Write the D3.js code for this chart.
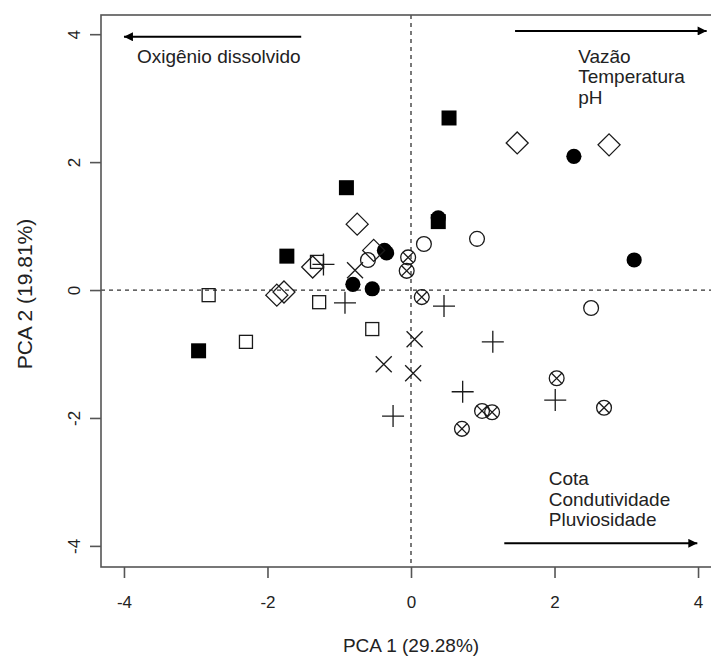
<!DOCTYPE html>
<html><head><meta charset="utf-8">
<script src="https://cdn.jsdelivr.net/npm/d3@7"></script>
<style>body{margin:0;background:#fff;} svg{display:block;} text{font-family:"Liberation Sans",Arial,sans-serif;fill:#222;}</style>
</head><body><svg id="c" width="711" height="657"></svg>
<script>
// ---- data ----
const xTicks = [-4, -2, 0, 2, 4];
const yTicks = [-4, -2, 0, 2, 4];
const xLabel = "PCA 1 (29.28%)";
const yLabel = "PCA 2 (19.81%)";
const filledSquare = [[0.53,2.69],[-0.90,1.60],[-1.73,0.53],[-2.96,-0.95],[0.38,1.07]];
const filledCircle = [[2.27,2.09],[3.11,0.47],[-0.37,0.62],[-0.34,0.58],[-0.54,0.02],[-0.81,0.09],[0.38,1.13]];
const openCircle = [[0.92,0.80],[2.51,-0.28],[0.18,0.72],[-0.60,0.47]];
const openDiamond = [[1.48,2.30],[2.76,2.27],[-0.75,1.03],[-0.52,0.62],[-1.37,0.36],[-1.87,-0.08],[-1.77,-0.03]];
const openSquare = [[-2.82,-0.08],[-2.30,-0.81],[-1.28,-0.19],[-1.31,0.44],[-0.54,-0.61]];
const plusPts = [[-1.22,0.40],[-0.92,-0.20],[0.46,-0.25],[1.14,-0.81],[0.72,-1.59],[-0.25,-1.97],[2.01,-1.72]];
const crossPts = [[-0.78,0.31],[0.05,-0.77],[-0.38,-1.16],[0.03,-1.30]];
const circleXPts = [[-0.04,0.51],[-0.06,0.30],[0.15,-0.11],[2.03,-1.38],[2.69,-1.84],[0.99,-1.89],[1.13,-1.91],[0.71,-2.17]];
// arrows: [x1,y1,x2,y2] (head at x2,y2), in data units
const arrows = [[-1.53,3.96,-4.0,3.96],[1.45,4.05,4.12,4.05],[1.30,-3.96,3.99,-3.96]];
const arrowLabels = [
  {x:-3.82, y:3.55, lines:["Oxigênio dissolvido"]},
  {x:2.33, y:3.55, lines:["Vazão","Temperatura","pH"]},
  {x:1.92, y:-3.05, lines:["Cota","Condutividade","Pluviosidade"]}
];

// ---- chart ----
const svg = d3.select("#c");
const x = d3.scaleLinear().domain([-4.32, 4.32]).range([101, 721]);
const y = d3.scaleLinear().domain([-4.33, 4.30]).range([567, 15]);
const ink = "#1a1a1a", axisCol = "#555";
const fmt = d => String(d);

svg.append("defs").append("marker").attr("id","ah").attr("viewBox","0 0 10 10")
  .attr("refX",10).attr("refY",5).attr("markerWidth",5.5).attr("markerHeight",4.5)
  .attr("markerUnits","strokeWidth").attr("orient","auto")
  .append("path").attr("d","M0,0L10,5L0,10z").attr("fill","#000");

// dashed zero lines
svg.append("line").attr("x1",x(0)).attr("x2",x(0)).attr("y1",y.range()[1]).attr("y2",y.range()[0])
  .attr("stroke","#333").attr("stroke-width",1.3).attr("stroke-dasharray","4,4");
svg.append("line").attr("x1",x.range()[0]).attr("x2",x.range()[1]).attr("y1",y(0)).attr("y2",y(0))
  .attr("stroke","#333").attr("stroke-width",1.3).attr("stroke-dasharray","4,4");

// box
svg.append("rect").attr("x",x.range()[0]).attr("y",y.range()[1])
  .attr("width",x.range()[1]-x.range()[0]).attr("height",y.range()[0]-y.range()[1])
  .attr("fill","none").attr("stroke",axisCol).attr("stroke-width",1.6);

// axes
const xa = svg.append("g").attr("transform",`translate(0,${y.range()[0]})`)
  .call(d3.axisBottom(x).tickValues(xTicks).tickSize(11).tickFormat(fmt));
const ya = svg.append("g").attr("transform",`translate(${x.range()[0]},0)`)
  .call(d3.axisLeft(y).tickValues(yTicks).tickSize(11).tickFormat(fmt));
[xa, ya].forEach(g => {
  g.select(".domain").remove();
  g.selectAll(".tick line").attr("stroke",axisCol).attr("stroke-width",1.6);
  g.selectAll("text").attr("font-size",17).attr("fill","#222").style("font-family","Liberation Sans, Arial, sans-serif");
});
xa.selectAll(".tick text").attr("dy",null).attr("y",41);
ya.selectAll(".tick text").attr("x",null).attr("dy",null).attr("text-anchor","middle")
  .attr("transform","translate(-21,0) rotate(-90)");

// axis titles
svg.append("text").attr("x",x(0)).attr("y",652).attr("text-anchor","middle").attr("font-size",19).text(xLabel);
svg.append("text").attr("transform",`translate(32,${y(0)+4}) rotate(-90)`).attr("text-anchor","middle")
  .attr("font-size",21).text(yLabel);

// arrows and labels
svg.selectAll(".arr").data(arrows).enter().append("line").attr("class","arr")
  .attr("x1",d=>x(d[0])).attr("y1",d=>y(d[1])).attr("x2",d=>x(d[2])).attr("y2",d=>y(d[3]))
  .attr("stroke","#000").attr("stroke-width",2).attr("marker-end","url(#ah)");
arrowLabels.forEach(a => {
  a.lines.forEach((t,i) => {
    svg.append("text").attr("x",x(a.x)).attr("y",y(a.y)+i*20.5).attr("font-size",19).text(t);
  });
});

// symbols
const g = svg.append("g");
const sw = 1.3;
g.selectAll(".fs").data(filledSquare).enter().append("rect")
  .attr("x",d=>x(d[0])-7.5).attr("y",d=>y(d[1])-7.5).attr("width",15).attr("height",15).attr("fill","#000");
g.selectAll(".os").data(openSquare).enter().append("rect")
  .attr("x",d=>x(d[0])-6.5).attr("y",d=>y(d[1])-6.5).attr("width",13).attr("height",13)
  .attr("fill","none").attr("stroke",ink).attr("stroke-width",sw);
g.selectAll(".fc").data(filledCircle).enter().append("circle")
  .attr("cx",d=>x(d[0])).attr("cy",d=>y(d[1])).attr("r",7.6).attr("fill","#000");
g.selectAll(".oc").data(openCircle).enter().append("circle")
  .attr("cx",d=>x(d[0])).attr("cy",d=>y(d[1])).attr("r",7.4).attr("fill","none").attr("stroke",ink).attr("stroke-width",sw);
g.selectAll(".od").data(openDiamond).enter().append("path")
  .attr("d",d=>{const cx=x(d[0]),cy=y(d[1]),r=11;return `M${cx},${cy-r}L${cx+r},${cy}L${cx},${cy+r}L${cx-r},${cy}Z`;})
  .attr("fill","none").attr("stroke",ink).attr("stroke-width",sw);
g.selectAll(".pl").data(plusPts).enter().append("path")
  .attr("d",d=>{const cx=x(d[0]),cy=y(d[1]),r=11;return `M${cx-r},${cy}H${cx+r}M${cx},${cy-r}V${cy+r}`;})
  .attr("fill","none").attr("stroke",ink).attr("stroke-width",sw);
g.selectAll(".cr").data(crossPts).enter().append("path")
  .attr("d",d=>{const cx=x(d[0]),cy=y(d[1]),r=8;return `M${cx-r},${cy-r}L${cx+r},${cy+r}M${cx-r},${cy+r}L${cx+r},${cy-r}`;})
  .attr("fill","none").attr("stroke",ink).attr("stroke-width",sw);
const cxg = g.selectAll(".cx").data(circleXPts).enter().append("g");
cxg.append("circle").attr("cx",d=>x(d[0])).attr("cy",d=>y(d[1])).attr("r",7.4)
  .attr("fill","none").attr("stroke",ink).attr("stroke-width",sw);
cxg.append("path")
  .attr("d",d=>{const cx=x(d[0]),cy=y(d[1]),r=5.3;return `M${cx-r},${cy-r}L${cx+r},${cy+r}M${cx-r},${cy+r}L${cx+r},${cy-r}`;})
  .attr("fill","none").attr("stroke",ink).attr("stroke-width",sw);
</script></body></html>
